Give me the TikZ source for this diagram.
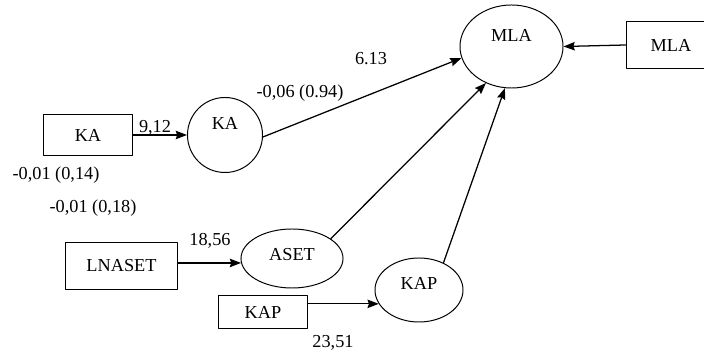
\documentclass[tikz,border=0pt]{standalone}
\usepackage{fontspec}
\setmainfont{Liberation Serif}
\usetikzlibrary{shapes.geometric,arrows.meta}
\begin{document}
\begin{tikzpicture}[line cap=round,line join=round,>={Stealth[length=8pt,width=6pt,inset=1pt]},x=0.025cm,y=-0.025cm,
	obs/.style={draw,rectangle,line width=0.7pt,inner sep=0pt,font=\fontsize{13}{15}\selectfont},
	lat/.style={draw,ellipse,line width=0.7pt,inner sep=0pt,font=\fontsize{13}{15}\selectfont},
	coef/.style={inner sep=1pt,font=\fontsize{13}{15}\selectfont}]
	\useasboundingbox (0,0) rectangle (704,352);
	% observed
	\node[obs,minimum width=2.225cm,minimum height=1cm] (kabox) at (88,135) {KA};
	\node[obs,minimum width=2.775cm,minimum height=1.15cm] (lnaset) at (121.5,266) {LNASET};
	\node[obs,minimum width=2.2cm,minimum height=0.8cm] (kapbox) at (263,312) {KAP};
	\node[obs,minimum width=2.25cm,minimum height=1.15cm] (mlabox) at (671,45) {MLA};
	% latent
	\node[lat,minimum width=1.875cm,minimum height=1.875cm,text depth=0.6cm] (ka) at (225,135) {KA};
	\node[lat,minimum width=2.55cm,minimum height=1.475cm,text depth=0.2cm] (aset) at (292,258.5) {ASET};
	\node[lat,minimum width=2.2cm,minimum height=1.6cm,text depth=0.35cm] (kap) at (419,290) {KAP};
	\node[lat,minimum width=2.575cm,minimum height=2.075cm,text depth=0.55cm] (mla) at (511.5,46.5) {MLA};
	% paths
	\draw[->,line width=0.9pt] (kabox) -- (ka);
	\draw[->,line width=0.9pt] (aset.185 -| lnaset.east) -- (aset.185);
	\draw[->,line width=0.9pt] (kap.199 -| kapbox.east) -- (kap.199);
	\draw[->,line width=0.9pt] (mlabox.west) -- (mla.east);
	\draw[->,line width=0.9pt] (ka.357) -- (mla.193);
	\draw[->,line width=0.9pt] (aset.27) -- (mla.235);
	\draw[->,line width=0.9pt] (kap.48) -- (mla.261);
	% coefficients
	\node[coef] (c1) at (155,128) {9,12};
	\node[coef] (c2) at (56,175) {-0,01 (0,14)};
	\node[coef] (c3) at (93,208) {-0,01 (0,18)};
	\node[coef] (c4) at (300,93) {-0,06 (0.94)};
	\node[coef] (c5) at (371,59) {6.13};
	\node[coef] (c6) at (210,241) {18,56};
	\node[coef] (c7) at (333,343) {23,51};
\end{tikzpicture}
\end{document}
